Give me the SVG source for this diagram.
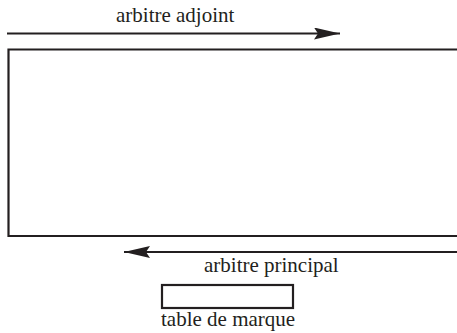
<svg xmlns="http://www.w3.org/2000/svg" width="457" height="333" viewBox="0 0 457 333">
<defs>
<style>
.t{font-family:'Liberation Serif','Times New Roman',Times,serif;font-size:21px;fill:#231f20}
.ln{stroke:#231f20;stroke-width:2.2;fill:none}
</style>
<marker id="ah" viewBox="0 0 26 12" refX="26" refY="6" markerWidth="26" markerHeight="12" markerUnits="userSpaceOnUse" orient="auto">
<path d="M0,0 L26,6 L0,12 L4,6 Z" fill="#231f20"/>
</marker>
</defs>
<rect width="457" height="333" fill="#fff"/>
<g id="court">
<path class="ln" d="M460,49.5 H8.5 V236 H460"/>
</g>
<g id="table">
<rect class="ln" x="162" y="285" width="131" height="23"/>
<text class="t" x="161" y="326" font-family="Liberation Serif, serif">table de marque</text>
</g>
<g id="labels">
<text class="t" x="116" y="22" font-family="Liberation Serif, serif">arbitre adjoint</text>
<text class="t" x="204" y="272" font-family="Liberation Serif, serif">arbitre principal</text>
</g>
<g id="connectors">
<line class="ln" x1="7" y1="33.5" x2="340" y2="33.5" marker-end="url(#ah)"/>
<line class="ln" x1="460" y1="252" x2="124" y2="252" marker-end="url(#ah)"/>
</g>
</svg>
